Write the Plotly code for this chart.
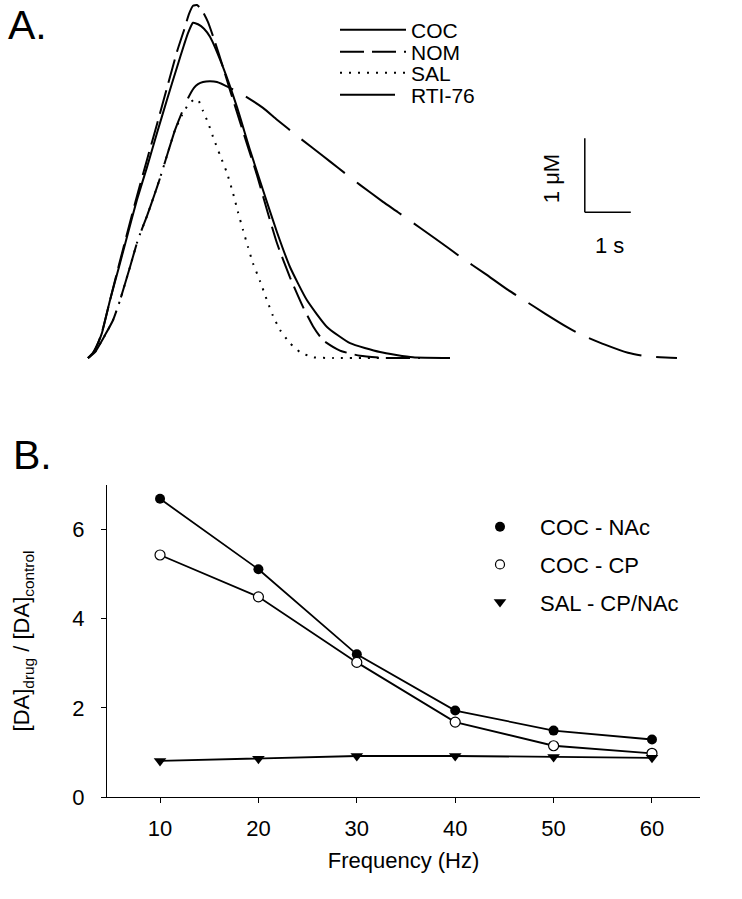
import plotly.graph_objects as go

# ---------------- Panel A: simulated DA overflow (time in s, concentration in µM)
coc_t = [0.000, 0.109, 0.217, 0.304, 0.478, 0.674, 0.870, 1.065, 1.283, 1.500, 1.717, 1.935,
         2.087, 2.174, 2.283, 2.391, 2.522, 2.652, 2.935, 3.239, 3.522, 3.804, 4.109, 4.391,
         4.761, 5.196, 5.696, 6.348, 7.065, 7.870]
coc_c = [0.00, 0.07, 0.20, 0.34, 0.78, 1.23, 1.69, 2.14, 2.58, 3.04, 3.49, 3.93,
         4.23, 4.39, 4.53, 4.51, 4.45, 4.34, 3.93, 3.39, 2.81, 2.27, 1.70, 1.23,
         0.78, 0.42, 0.20, 0.08, 0.01, 0.00]

nom_t = [0.000, 0.109, 0.217, 0.304, 0.478, 0.674, 0.870, 1.065, 1.283, 1.500, 1.717, 1.935,
         2.087, 2.196, 2.283, 2.370, 2.478, 2.609, 2.761, 2.935, 3.087, 3.304, 3.478, 3.674,
         3.891, 4.109, 4.391, 4.674, 4.891, 5.109, 5.478, 5.913, 6.500, 7.217]
nom_c = [0.00, 0.07, 0.20, 0.35, 0.78, 1.26, 1.73, 2.19, 2.68, 3.16, 3.65, 4.14,
         4.43, 4.65, 4.76, 4.77, 4.70, 4.54, 4.27, 3.93, 3.62, 3.19, 2.85, 2.47,
         2.00, 1.55, 1.09, 0.69, 0.43, 0.24, 0.10, 0.03, 0.00, 0.00]

sal_t = [0.000, 0.152, 0.370, 0.543, 0.696, 0.913, 1.087, 1.283, 1.457, 1.565, 1.739, 1.891,
         2.043, 2.174, 2.304, 2.391, 2.500, 2.609, 2.717, 2.870, 3.022, 3.152, 3.261, 3.370,
         3.478, 3.587, 3.739, 3.891, 4.022, 4.174, 4.391, 4.609, 4.891, 5.326, 6.674]
sal_c = [0.00, 0.08, 0.31, 0.51, 0.78, 1.23, 1.60, 1.92, 2.23, 2.43, 2.78, 3.08,
         3.28, 3.42, 3.49, 3.49, 3.34, 3.18, 2.99, 2.74, 2.50, 2.23, 1.97, 1.73,
         1.50, 1.28, 1.04, 0.78, 0.57, 0.38, 0.20, 0.08, 0.01, 0.00, 0.00]

rti_t = [0.000, 0.152, 0.370, 0.543, 0.696, 0.913, 1.087, 1.283, 1.457, 1.565, 1.739, 1.891,
         2.043, 2.174, 2.304, 2.391, 2.500, 2.652, 2.804, 3.087, 3.413, 3.804, 4.109, 4.609,
         5.109, 5.435, 5.913, 6.413, 6.739, 7.217, 7.804, 8.087, 8.630, 9.130, 9.435, 9.935,
         10.435, 10.739, 11.239, 11.739, 12.065, 12.435, 12.804]
rti_c = [0.00, 0.08, 0.31, 0.51, 0.78, 1.23, 1.60, 1.92, 2.23, 2.43, 2.78, 3.08,
         3.32, 3.51, 3.65, 3.70, 3.73, 3.74, 3.73, 3.65, 3.54, 3.38, 3.22, 2.97,
         2.73, 2.57, 2.34, 2.11, 1.97, 1.76, 1.50, 1.37, 1.14, 0.92, 0.80, 0.60,
         0.41, 0.31, 0.18, 0.07, 0.03, 0.01, 0.00]

# ---------------- Panel B: ratio vs stimulation frequency
freq = [10, 20, 30, 40, 50, 60]
coc_nac = [6.69, 5.11, 3.20, 1.94, 1.49, 1.29]
coc_cp = [5.43, 4.49, 3.02, 1.68, 1.15, 0.98]
sal_cpnac = [0.81, 0.86, 0.92, 0.92, 0.90, 0.88]

FONT = "Liberation Sans, Arial, sans-serif"
W, H = 742, 899


def fx(px):
    return px / W


def fy(py):
    return 1 - py / H


# Panel A geometry (pixels): trace origin x=88, baseline y=358; 1 s = 46 px, 1 µM = 74 px
A_X0, A_BASE, A_SX, A_SY = 88, 358, 46, 74
A_BOTTOM = 404

fig = go.Figure()

specA = [
    ("COC", coc_t, coc_c, "solid", "legend2"),
    ("NOM", nom_t, nom_c, "24px,8px", "legend3"),
    ("SAL", sal_t, sal_c, "2px,7px", "legend4"),
    ("RTI-76", rti_t, rti_c, "55px,15px", "legend5"),
]
for name, t, c, dash, lg in specA:
    fig.add_trace(go.Scatter(
        x=t, y=c, mode="lines", name=name, legend=lg,
        line=dict(color="black", width=2, dash=dash, shape="spline", smoothing=0.5),
        xaxis="x", yaxis="y", hoverinfo="skip"))

# Panel B data traces
fig.add_trace(go.Scatter(x=freq, y=coc_nac, mode="lines+markers", showlegend=False,
                         line=dict(color="black", width=1.8),
                         marker=dict(symbol="circle", size=10, color="black"),
                         xaxis="x2", yaxis="y2"))
fig.add_trace(go.Scatter(x=freq, y=coc_cp, mode="lines+markers", showlegend=False,
                         line=dict(color="black", width=1.8),
                         marker=dict(symbol="circle", size=10, color="white",
                                     line=dict(color="black", width=1.2)),
                         xaxis="x2", yaxis="y2"))
fig.add_trace(go.Scatter(x=freq, y=sal_cpnac, mode="lines+markers", showlegend=False,
                         line=dict(color="black", width=1.8),
                         marker=dict(symbol="triangle-down", size=11, color="black"),
                         xaxis="x2", yaxis="y2"))
# Panel B legend entries (markers only)
fig.add_trace(go.Scatter(x=[None], y=[None], mode="markers", name="COC - NAc",
                         legend="legend", legendgroup="g1",
                         marker=dict(symbol="circle", size=10, color="black"),
                         xaxis="x2", yaxis="y2"))
fig.add_trace(go.Scatter(x=[None], y=[None], mode="markers", name="COC - CP",
                         legend="legend", legendgroup="g2",
                         marker=dict(symbol="circle", size=9, color="white",
                                     line=dict(color="black", width=1.2)),
                         xaxis="x2", yaxis="y2"))
fig.add_trace(go.Scatter(x=[None], y=[None], mode="markers", name="SAL - CP/NAc",
                         legend="legend", legendgroup="g3",
                         marker=dict(symbol="triangle-down", size=11, color="black"),
                         xaxis="x2", yaxis="y2"))

# Scale bar for panel A (1 s by 1 µM)
sb_t0, sb_c0 = 10.80, 1.97
fig.add_shape(type="line", xref="x", yref="y", x0=sb_t0, x1=sb_t0, y0=sb_c0, y1=sb_c0 + 1,
              line=dict(color="black", width=1.5))
fig.add_shape(type="line", xref="x", yref="y", x0=sb_t0, x1=sb_t0 + 1, y0=sb_c0, y1=sb_c0,
              line=dict(color="black", width=1.5))

annots = [
    dict(text="1 μM", x=10.065, y=2.43, xref="x", yref="y", textangle=-90,
         showarrow=False, font=dict(size=22, family=FONT, color="black")),
    dict(text="1 s", x=11.326, y=1.527, xref="x", yref="y",
         showarrow=False, font=dict(size=22, family=FONT, color="black")),
    dict(text="A.", x=fx(6), y=1, xref="paper", yref="paper",
         xanchor="left", yanchor="top", showarrow=False,
         font=dict(size=41, family=FONT, color="black")),
    dict(text="B.", x=fx(11), y=fy(430), xref="paper", yref="paper",
         xanchor="left", yanchor="top", showarrow=False,
         font=dict(size=41, family=FONT, color="black")),
]

legA = dict(xanchor="left", yanchor="middle", itemwidth=66, bgcolor="rgba(0,0,0,0)",
            borderwidth=0, font=dict(size=21, family=FONT, color="black"))
rowsA = [30, 52, 73, 95]

fig.update_layout(
    width=W, height=H,
    margin=dict(l=0, r=0, t=0, b=0, autoexpand=False),
    paper_bgcolor="white", plot_bgcolor="white",
    font=dict(family=FONT, color="black"),
    showlegend=True,
    annotations=annots,
    xaxis=dict(domain=[0, 1], range=[-A_X0 / A_SX, (W - A_X0) / A_SX], visible=False),
    yaxis=dict(domain=[fy(A_BOTTOM), 1],
               range=[(A_BASE - A_BOTTOM) / A_SY, A_BASE / A_SY], visible=False),
    xaxis2=dict(domain=[fx(107), fx(700)], range=[4.61, 64.88], anchor="y2",
                tickvals=freq, ticks="outside", ticklen=5, tickwidth=1, tickcolor="black",
                showline=True, linecolor="black", linewidth=1, showgrid=False, zeroline=False,
                ticklabelstandoff=7,
                tickfont=dict(size=22, family=FONT, color="black"),
                title=dict(text="Frequency (Hz)", standoff=12,
                           font=dict(size=22, family=FONT, color="black"))),
    yaxis2=dict(domain=[fy(797), fy(485)], range=[0, 7], anchor="x2",
                tickvals=[0, 2, 4, 6], ticks="outside", ticklen=5, tickwidth=1,
                tickcolor="black", showline=True, linecolor="black", linewidth=1,
                showgrid=False, zeroline=False, ticklabelstandoff=12,
                tickfont=dict(size=22, family=FONT, color="black"),
                title=dict(text="[DA]<sub>drug</sub> / [DA]<sub>control</sub>", standoff=36,
                           font=dict(size=22, family=FONT, color="black"))),
    legend=dict(x=fx(460), y=fy(506), xanchor="left", yanchor="top", itemwidth=70,
                tracegroupgap=6, bgcolor="rgba(0,0,0,0)", borderwidth=0,
                font=dict(size=22, family=FONT, color="black")),
    legend2=dict(legA, x=fx(335), y=fy(rowsA[0])),
    legend3=dict(legA, x=fx(335), y=fy(rowsA[1])),
    legend4=dict(legA, x=fx(335), y=fy(rowsA[2])),
    legend5=dict(legA, x=fx(335), y=fy(rowsA[3])),
)

fig.write_html(
    "out.html",
    config={"displayModeBar": False},
    post_script="document.body.style.margin='0px';"
                "document.documentElement.style.overflow='hidden';",
)
